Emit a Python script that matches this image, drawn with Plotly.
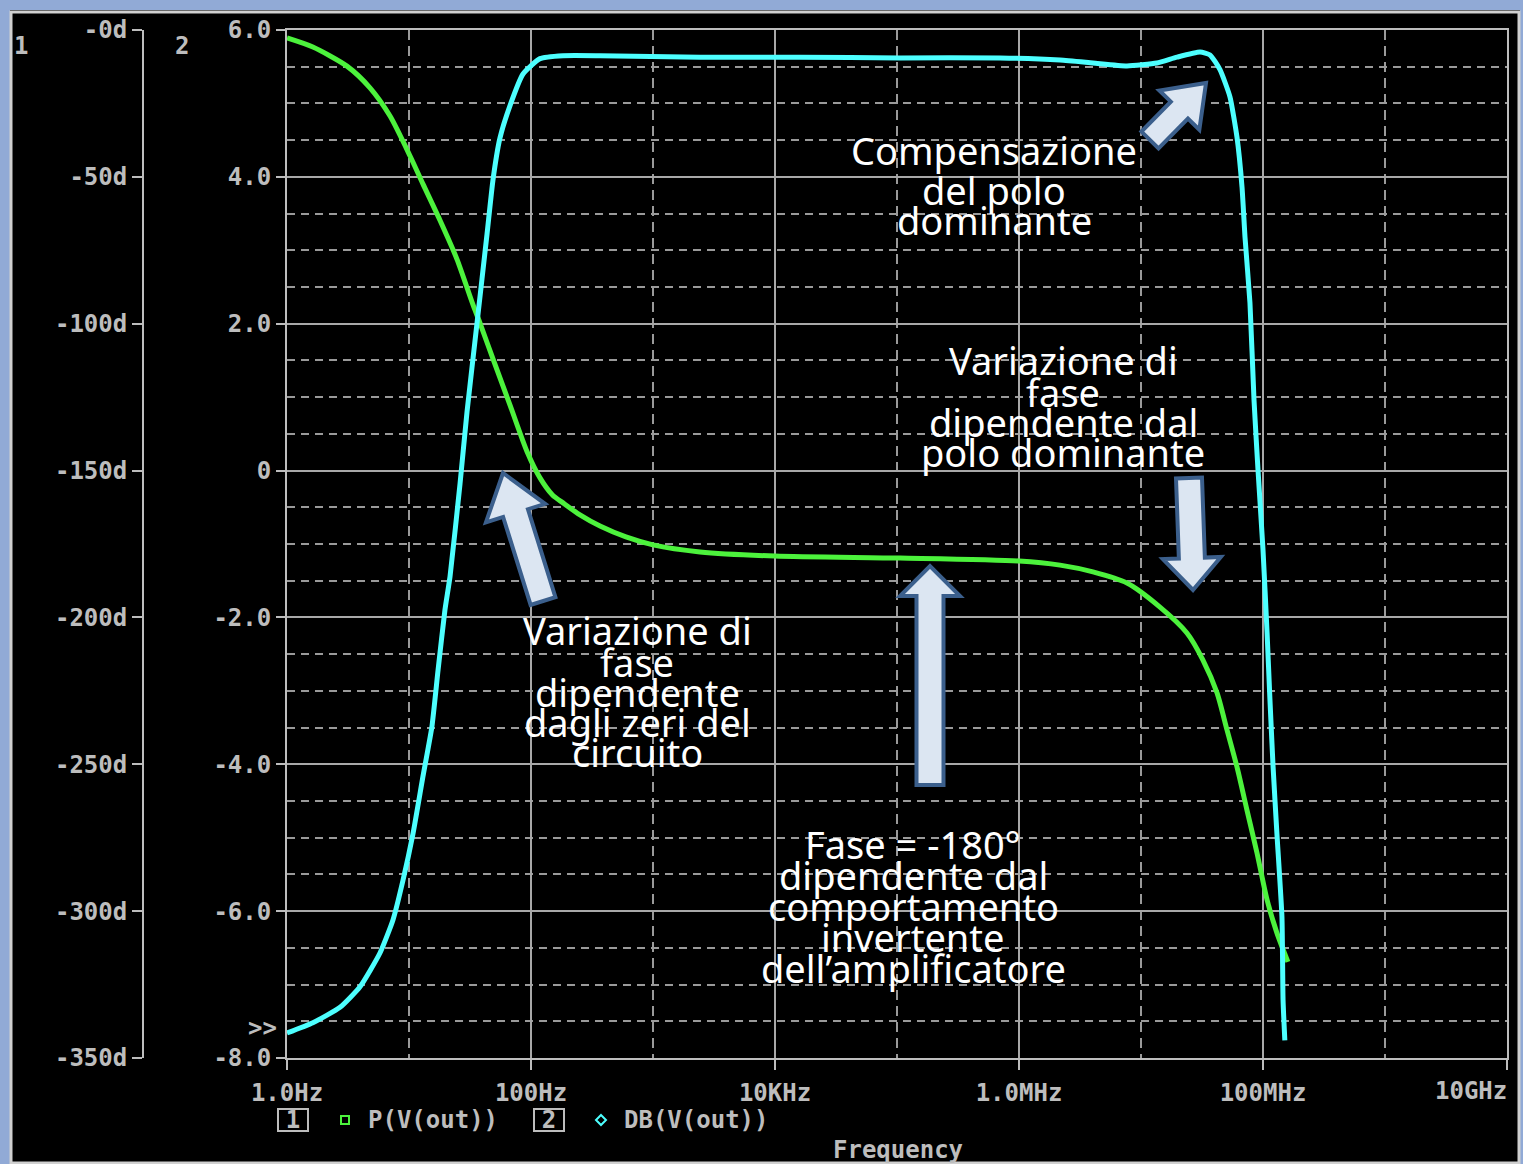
import math
import plotly.graph_objects as go

# ---------------- data ----------------
freq_phase = [1.0, 1.63, 3.10, 4.79, 6.99, 10.2, 13.0, 17.9, 24.7, 33.5, 38.2, 48.8, 67.3, 92.7,
              118.5, 150, 183, 252, 368, 600, 1000, 2428, 1.0e4, 1.06e5, 1.0e6, 2.17e6, 4.04e6,
              7.68e6, 1.43e7, 2.38e7, 3.22e7, 4.20e7, 5.07e7, 6.12e7, 7.39e7, 8.93e7, 1.08e8,
              1.30e8, 1.60e8]
phase_deg = [-2.7, -5.8, -12.3, -19.7, -29.3, -42.9, -52.4, -64.7, -78.0, -93.6, -99.8, -112.0,
             -127.7, -143.5, -152.5, -158.3, -161.0, -165.1, -168.9, -172.6, -175.3, -177.7,
             -179.1, -179.8, -180.8, -182.2, -184.5, -188.3, -196.5, -205.3, -214.5, -225.7,
             -238.3, -250.9, -265.6, -280.2, -296.2, -307.4, -317.3]

freq_db = [1.0, 1.63, 2.72, 3.97, 5.78, 7.39, 8.93, 10.8, 13.0, 15.4, 17.3, 19.7, 21.7, 26.2, 29.9,
           36.1, 43.6, 48.8, 55.7, 67.3, 86.0, 118.5, 183, 368, 2428, 1.6e4, 1.06e5, 6.99e5,
           2.17e6, 4.04e6, 7.68e6, 1.35e7, 1.97e7, 3.05e7, 3.68e7, 4.44e7, 5.36e7, 6.12e7,
           6.73e7, 7.12e7, 7.82e7, 8.44e7, 9.10e7, 1.00e8, 1.08e8, 1.14e8, 1.21e8, 1.30e8,
           1.43e8, 1.46e8, 1.51e8]
gain_db = [-7.66, -7.52, -7.31, -7.03, -6.57, -6.12, -5.58, -4.94, -4.17, -3.49, -2.72, -1.90,
           -1.44, -0.18, 0.80, 2.01, 3.22, 3.96, 4.53, 4.97, 5.40, 5.61, 5.65, 5.65, 5.63, 5.63,
           5.62, 5.62, 5.59, 5.55, 5.51, 5.55, 5.63, 5.70, 5.66, 5.46, 5.09, 4.54, 3.86, 3.18,
           2.28, 0.96, 0.01, -1.08, -2.21, -3.12, -4.04, -4.94, -6.08, -7.21, -7.76]

x_tickvals = [1, 1e2, 1e4, 1e6, 1e8, 1e10]
x_ticktext = ["1.0Hz", "100Hz", "10KHz", "1.0MHz", "100MHz", ""]
x_minorvals = [10, 1e3, 1e5, 1e7, 1e9]

db_tickvals = [6, 4, 2, 0, -2, -4, -6, -8]
db_ticktext = ["6.0", "4.0", "2.0", "0", "-2.0", "-4.0", "-6.0", "-8.0"]
phase_tickvals = [0, -50, -100, -150, -200, -250, -300, -350]
phase_ticktext = ["-0d", "-50d", "-100d", "-150d", "-200d", "-250d", "-300d", "-350d"]

notes = [
    # (text, x_px, y_px)
    ("Compensazione", 994, 150), ("del polo", 994, 190), ("dominante", 994, 220),
    ("Variazione di", 1063, 360), ("fase", 1063, 392), ("dipendente dal", 1063, 422),
    ("polo dominante", 1063, 452),
    ("Variazione di", 637, 630), ("fase", 637, 662), ("dipendente", 637, 692),
    ("dagli zeri del", 637, 722), ("circuito", 637, 752),
    ("Fase = -180°", 913, 844), ("dipendente dal", 913, 875), ("comportamento", 913, 906),
    ("invertente", 913, 937), ("dell’amplificatore", 913, 968),
]

# ---------------- layout geometry ----------------
FW, FH = 1523, 1164
L, R, T, B = 100, 16, 30, 106
W, H = FW - L - R, FH - T - B


def px(x):
    return (x - L) / W


def py(y):
    return 1 - (y - T) / H


GRAY = "#bdbdbd"
MONO = "DejaVu Sans Mono"
GREEN = "#4cf23c"
CYAN = "#4dffff"

fig = go.Figure()
fig.add_trace(go.Scatter(x=freq_phase, y=phase_deg, mode="lines", yaxis="y",
                         line=dict(color=GREEN, width=5, shape="spline", smoothing=0.7),
                         showlegend=False))
fig.add_trace(go.Scatter(x=freq_db, y=gain_db, mode="lines", yaxis="y2",
                         line=dict(color=CYAN, width=5, shape="spline", smoothing=0.5),
                         showlegend=False))

tickfont = dict(family=MONO, size=24, color=GRAY, weight="bold")

fig.update_layout(
    width=FW, height=FH,
    margin=dict(l=L, r=R, t=T, b=B, autoexpand=False),
    paper_bgcolor="black", plot_bgcolor="black",
    template="none",
    showlegend=False,
    xaxis=dict(type="log", range=[0, 10], domain=[px(287), 1], anchor="y2",
               tickmode="array", tickvals=x_tickvals, ticktext=x_ticktext,
               tickfont=tickfont, ticks="outside", ticklen=10, tickwidth=2, tickcolor=GRAY,
               ticklabelstandoff=2,
               showgrid=True, gridcolor="#a8a8a8", gridwidth=2,
               minor=dict(tickmode="array", tickvals=x_minorvals, showgrid=True,
                          gridcolor="#9a9a9a", gridwidth=2, griddash="10px,6px", ticks=""),
               showline=True, linecolor=GRAY, linewidth=2, mirror=True,
               zeroline=False, automargin=False),
    yaxis=dict(range=[-350, 0], anchor="free", position=px(143), side="left",
               tickmode="array", tickvals=phase_tickvals, ticktext=phase_ticktext,
               tickfont=tickfont, ticks="outside", ticklen=10, tickwidth=2, tickcolor=GRAY,
               showline=True, linecolor=GRAY, linewidth=2, showgrid=False,
               zeroline=False, automargin=False),
    yaxis2=dict(range=[-8, 6], overlaying="y", anchor="x", side="left",
                tickmode="array", tickvals=db_tickvals, ticktext=db_ticktext,
                tickfont=tickfont, ticks="outside", ticklen=9, tickwidth=2, tickcolor=GRAY,
                showgrid=True, gridcolor="#a8a8a8", gridwidth=2,
                minor=dict(dtick=0.5, tick0=0, showgrid=True, gridcolor="#9a9a9a",
                           gridwidth=2, griddash="8px,6px", ticks=""),
                showline=True, linecolor=GRAY, linewidth=2, mirror=True,
                zeroline=False, automargin=False),
)

shapes = []
annotations = []

# window frame (blue desktop border)
BLUE = "#91aad6"
for (x0, y0, x1, y1) in [(0, 0, 10, FH), (0, 0, FW, 10), (1520, 0, FW, FH)]:
    shapes.append(dict(type="rect", xref="paper", yref="paper",
                       x0=px(x0), x1=px(x1), y0=py(y0), y1=py(y1),
                       fillcolor=BLUE, line=dict(width=0), layer="above"))
shapes.append(dict(type="rect", xref="paper", yref="paper",
                   x0=px(11), x1=px(1519), y0=py(12), y1=py(1163),
                   fillcolor="rgba(0,0,0,0)", line=dict(color="#d0d0d0", width=3), layer="above"))


# block arrows
def block_arrow(tail, tip, sw, hw, hl):
    (x0, y0), (x1, y1) = tail, tip
    dx, dy = x1 - x0, y1 - y0
    ln = math.hypot(dx, dy)
    ux, uy = dx / ln, dy / ln
    nx, ny = -uy, ux
    neck = (x1 - ux * hl, y1 - uy * hl)
    pts = [
        (x0 + nx * sw / 2, y0 + ny * sw / 2),
        (neck[0] + nx * sw / 2, neck[1] + ny * sw / 2),
        (neck[0] + nx * hw / 2, neck[1] + ny * hw / 2),
        (x1, y1),
        (neck[0] - nx * hw / 2, neck[1] - ny * hw / 2),
        (neck[0] - nx * sw / 2, neck[1] - ny * sw / 2),
        (x0 - nx * sw / 2, y0 - ny * sw / 2),
    ]
    path = "M " + " L ".join(f"{px(a):.5f},{py(b):.5f}" for a, b in pts) + " Z"
    return dict(type="path", xref="paper", yref="paper", path=path,
                fillcolor="#dce6f2", line=dict(color="#3b5f8c", width=4), layer="above")


shapes.append(block_arrow((1150, 140), (1206, 83), 24, 56, 38))
shapes.append(block_arrow((1189, 478), (1193, 590), 26, 58, 32))
shapes.append(block_arrow((930, 785), (930, 566), 27, 60, 30))
shapes.append(block_arrow((543, 601), (503, 473), 26, 62, 42))

# legend markers
shapes.append(dict(type="rect", xref="paper", yref="paper",
                   x0=px(341), x1=px(349), y0=py(1116), y1=py(1124),
                   line=dict(color=GREEN, width=2), fillcolor="rgba(0,0,0,0)", layer="above"))
shapes.append(dict(type="path", xref="paper", yref="paper",
                   path=f"M {px(601)},{py(1115)} L {px(606)},{py(1120)} L {px(601)},{py(1125)} "
                        f"L {px(596)},{py(1120)} Z",
                   line=dict(color=CYAN, width=2), fillcolor="rgba(0,0,0,0)", layer="above"))


def ann(text, x, y, xanchor="center", size=24, color=GRAY, family=MONO, weight="bold", **kw):
    annotations.append(dict(text=text, xref="paper", yref="paper", x=px(x), y=py(y),
                            xanchor=xanchor, yanchor="middle", showarrow=False,
                            font=dict(family=family, size=size, color=color, weight=weight), **kw))


ann("1", 21, 46)
ann("2", 182, 46)
ann(">>", 262, 1028)
ann("10GHz", 1509, 1091, xanchor="right")
ann("1", 293, 1120, bordercolor=GRAY, borderwidth=2, borderpad=0, width=28, height=20, align="center")
ann("P(V(out))", 366, 1120, xanchor="left")
ann("2", 549, 1120, bordercolor=GRAY, borderwidth=2, borderpad=0, width=28, height=20, align="center")
ann("DB(V(out))", 622, 1120, xanchor="left")
ann("Frequency", 898, 1150)

for text, x, y in notes:
    ann(text, x, y, size=38, color="white", family="Noto Sans", weight="normal")

fig.update_layout(shapes=shapes, annotations=annotations)
fig.write_html("out.html")
